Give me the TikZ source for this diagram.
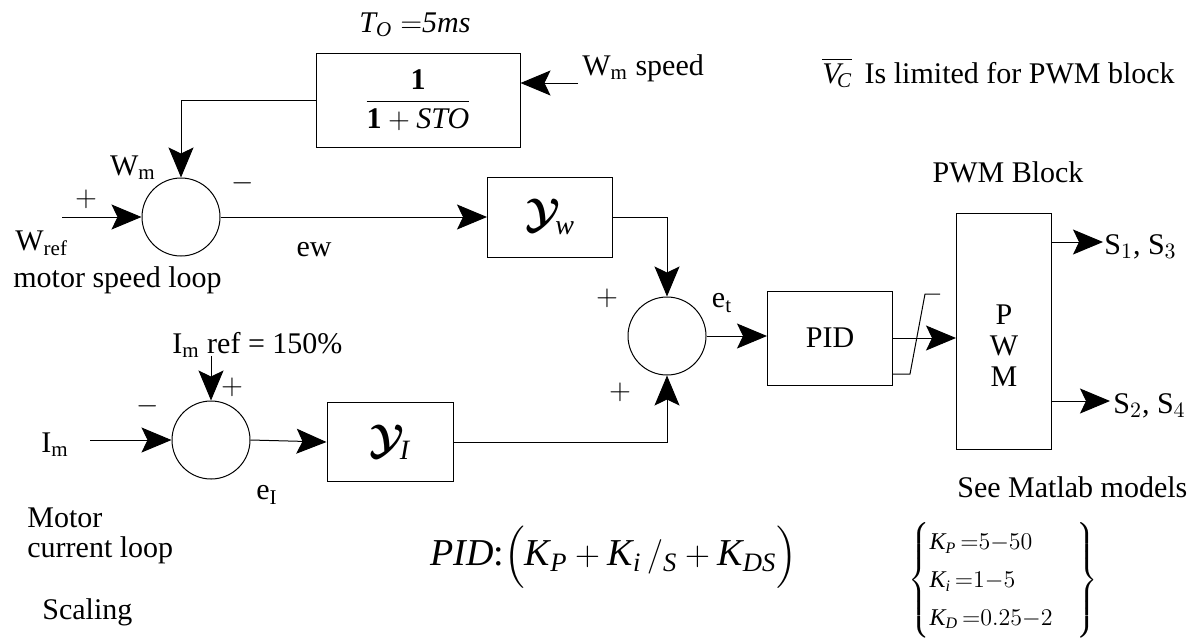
\documentclass[tikz,border=0pt]{standalone}
\usepackage{amsmath}
\usepackage{fontspec}
\setmainfont{Liberation Serif}
\usetikzlibrary{arrows.meta,positioning}
\newcommand{\basefont}{\fontsize{15}{18}\selectfont}
\newcommand{\ivar}[2]{\textit{#1}_{\textit{#2}}}
\tikzset{
  blk/.style={draw,line width=0.5pt,inner sep=0pt},
  sumnode/.style={draw,circle,line width=0.5pt,minimum size=39pt,inner sep=0pt},
  sig/.style={line width=0.5pt,-{Stealth[length=15pt,width=12.5pt,inset=3pt]}},
  lbl/.style={inner sep=1pt}
}

\begin{document}
\begin{tikzpicture}[x=0.5pt,y=-0.5pt,font=\basefont]
  \useasboundingbox (0,0) rectangle (1202,643);
  % blocks
  \node[blk,minimum width=102pt,minimum height=47pt] (filt) at (418,100) {$\dfrac{\textbf{1}}{\textbf{1}+\textit{STO}}$};
  \node[sumnode] (sw) at (181,217) {};
  \node[blk,minimum width=62.5pt,minimum height=40pt,font=\fontsize{20}{24}\selectfont] (gw) at (550,217) {$\boldsymbol{\mathcal{Y}}_{\!\textit{w}}$};
  \node[sumnode] (st) at (667,336) {};
  \node[blk,minimum width=62.5pt,minimum height=47pt] (pid) at (830,338) {PID};
  \node[blk,minimum width=47.5pt,minimum height=118pt] (pwm) at (1004,331) {};
  \node[lbl,align=center,font=\fontsize{15}{15.5}\selectfont] (pwmtxt) at (1004,346) {P\\W\\M};
  \node[sumnode] (si) at (211,440) {};
  \node[blk,minimum width=63pt,minimum height=39.5pt,font=\fontsize{20}{24}\selectfont] (gi) at (390,442) {$\boldsymbol{\mathcal{Y}}_{\!\textit{I}}$};
  % free ends
  \coordinate (wmin) at (578,83);
  \coordinate (wref) at (62,217);
  \coordinate (imin) at (90,440);
  \coordinate (imref) at (211,356);
  \coordinate (s13) at (1103,242);
  \coordinate (s24) at (1110,401);
  % connectors
  \draw[sig] (wmin) -- (wmin -| filt.east);
  \draw[sig] (filt.west) -| (sw.north);
  \draw[sig] (wref) -- (sw.west);
  \draw[sig] (sw.east) -- (gw.west);
  \draw[sig] (gw.east) -| (st.north);
  \draw[sig] (gi.east) -| (st.south);
  \draw[sig] (st.east) -- (st.east -| pid.west);
  \draw[sig] (pid.east) -- (pid.east -| pwm.west);
  \draw[line width=0.5pt] (pid.east) ++(0,36) -- ++(17,0) -- ++(15,-80) -- ++(15,0);
  \draw[sig] (s13 -| pwm.east) -- (s13);
  \draw[sig] (s24 -| pwm.east) -- (s24);
  \draw[sig] (imin) -- (si.west);
  \draw[sig] (imref) -- (si.north);
  \draw[sig] (si.east) -- (gi.west);
  % signs
  \foreach \x/\y/\s [count=\i] in {86/199/$+$,243/183/$-$,607/298/$+$,620/392/$+$,148/406/$-$,232/387/$+$}
    \node[lbl] (sign\i) at (\x,\y) {\s};
  % labels
  \node[lbl] (tolbl) at (415,25) {$\ivar{T}{O}=$\textit{5ms}};
  \node[lbl,anchor=west] (wmlbl) at (580,68) {W$_\text{m}$ speed};
  \node[lbl] (wmsum) at (133,168) {W$_\text{m}$};
  \node[lbl,anchor=west] (wreflbl) at (13,243) {W$_\text{ref}$};
  \node[lbl,anchor=west] (speedlbl) at (11,280) {motor speed loop};
  \node[lbl] (ewlbl) at (314,250) {ew};
  \node[lbl] (etlbl) at (722,303) {e$_\text{t}$};
  \node[lbl,anchor=west] (vclbl) at (820,73) {$\overline{\ivar{V}{\!C}}$\, Is limited for PWM block};
  \node[lbl] (pwmlbl) at (1008,172) {PWM Block};
  \node[lbl,anchor=west] (s13lbl) at (1102,247) {S$_1$, S$_3$};
  \node[lbl,anchor=west] (s24lbl) at (1111,406) {S$_2$, S$_4$};
  \node[lbl] (imlbl) at (55,445) {I$_\text{m}$};
  \node[lbl,anchor=west] (imreflbl) at (170,345) {I$_\text{m}$ ref = 150\%};
  \node[lbl] (eilbl) at (267,495) {e$_\text{I}$};
  \node[lbl,anchor=west] (motorlbl) at (25,518) {Motor};
  \node[lbl,anchor=west] (curlbl) at (25,550) {current loop};
  \node[lbl,anchor=west] (scalbl) at (40,612) {Scaling};
  \node[lbl,anchor=west] (matlbl) at (955,487) {See Matlab models};
  \node[lbl,anchor=west,font=\fontsize{19}{22}\selectfont] (pidf) at (428,557)
    {\textit{PID}:$\Bigl(\ivar{K}{P}+\ivar{K}{i}\,/_{\textit{S}}+\ivar{K}{DS}\Bigr)$};
  \node[lbl,font=\fontsize{12}{14}\selectfont] (kset) at (1003,580)
    {$\renewcommand{\arraystretch}{1.35}\left\{\begin{array}{@{}l@{\quad}}\ivar{K}{P}\,{=}5{-}50\\ \ivar{K}{i}\,{=}1{-}5\\ \ivar{K}{D}\,{=}0.25{-}2\end{array}\right\}$};
\end{tikzpicture}
\end{document}
